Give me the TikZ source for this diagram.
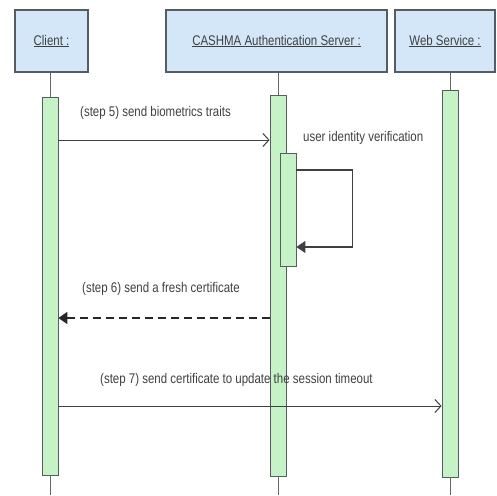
\documentclass[tikz,border=0pt]{standalone}
\usepackage{fontspec}
\setmainfont{Liberation Sans}[FakeStretch=0.82]
\usetikzlibrary{arrows.meta,positioning}
\definecolor{boxblue}{RGB}{212,231,248}
\definecolor{barlime}{RGB}{198,243,198}
\definecolor{edgegray}{RGB}{85,92,100}
\tikzset{
    lifebox/.style={draw=edgegray, fill=boxblue, line width=1.2pt, minimum height=62pt, inner sep=0pt,
        font=\fontsize{14}{16}\selectfont, text=black!75},
    actbar/.style={draw=edgegray, fill=barlime, line width=0.8pt, minimum width=16pt, inner sep=0pt},
    lifeline/.style={draw=black!60, line width=0.8pt},
    message/.style={draw=black!75, line width=1pt, -{Straight Barb[length=6pt,width=13pt]}},
    reply/.style={draw=black!85, line width=1.8pt, dash pattern=on 8pt off 5pt, -{Triangle[length=9pt,width=12pt]}},
    selfcall/.style={draw=black!75, line width=1.2pt, -{Triangle[length=9pt,width=12pt]}},
    msglabel/.style={font=\fontsize{14}{16}\selectfont, text=black!75, anchor=west, inner sep=0pt},
}

\begin{document}
\begin{tikzpicture}[x=1pt, y=-1pt]
\useasboundingbox (0,0) rectangle (497,495);
	% heads of the lifelines
	\node[lifebox, minimum width=73pt] (client) at (51.5,41) {\raisebox{-3pt}{\underline{Client :}}};
	\node[lifebox, minimum width=221pt] (server) at (276.5,41) {\raisebox{-3pt}{\underline{CASHMA Authentication Server :}}};
	\node[lifebox, minimum width=100pt] (web) at (445,41) {\raisebox{-3pt}{\underline{Web Service :}}};
	% activation bars
	\node[actbar, minimum height=378pt] (clientbar) at (50,286) {};
	\node[actbar, minimum height=381pt] (serverbar) at (278,285.5) {};
	\node[actbar, minimum height=387pt] (webbar) at (450,283.5) {};
	\node[actbar, minimum height=113pt] (checkbar) at (288,209.5) {};
	\coordinate (clientend) at (50,495);
	\coordinate (serverend) at (278,495);
	\coordinate (webend) at (450,495);
	% lifelines
	\draw[lifeline](client.south -| clientbar.north) -- (clientbar.north);
	\draw[lifeline](clientbar.south) -- (clientend);
	\draw[lifeline](server.south -| serverbar.north) -- (serverbar.north);
	\draw[lifeline](serverbar.south) -- (serverend);
	\draw[lifeline](web.south -| webbar.north) -- (webbar.north);
	\draw[lifeline](webbar.south) -- (webend);
	% rows of the messages
	\coordinate (row5) at (0,140);
	\coordinate (rowin) at (0,170);
	\coordinate (rowout) at (0,247);
	\coordinate (row6) at (0,318);
	\coordinate (row7) at (0,406);
	% messages
	\draw[message](clientbar.east |- row5) -- (serverbar.west |- row5);
	\draw[selfcall](checkbar.east |- rowin) -- ++(56,0) |- (checkbar.east |- rowout);
	\draw[reply](serverbar.west |- row6) -- (clientbar.east |- row6);
	\draw[message](clientbar.east |- row7) -- (webbar.west |- row7);
	\node[msglabel] (step5) at (80,113) {(step 5) send biometrics traits};
	\node[msglabel] (check) at (303,138) {user identity verification};
	\node[msglabel] (step6) at (82,289) {(step 6) send a fresh certificate};
	\node[msglabel] (step7) at (100,380) {(step 7) send certificate to update the session timeout};
\end{tikzpicture}
\end{document}
